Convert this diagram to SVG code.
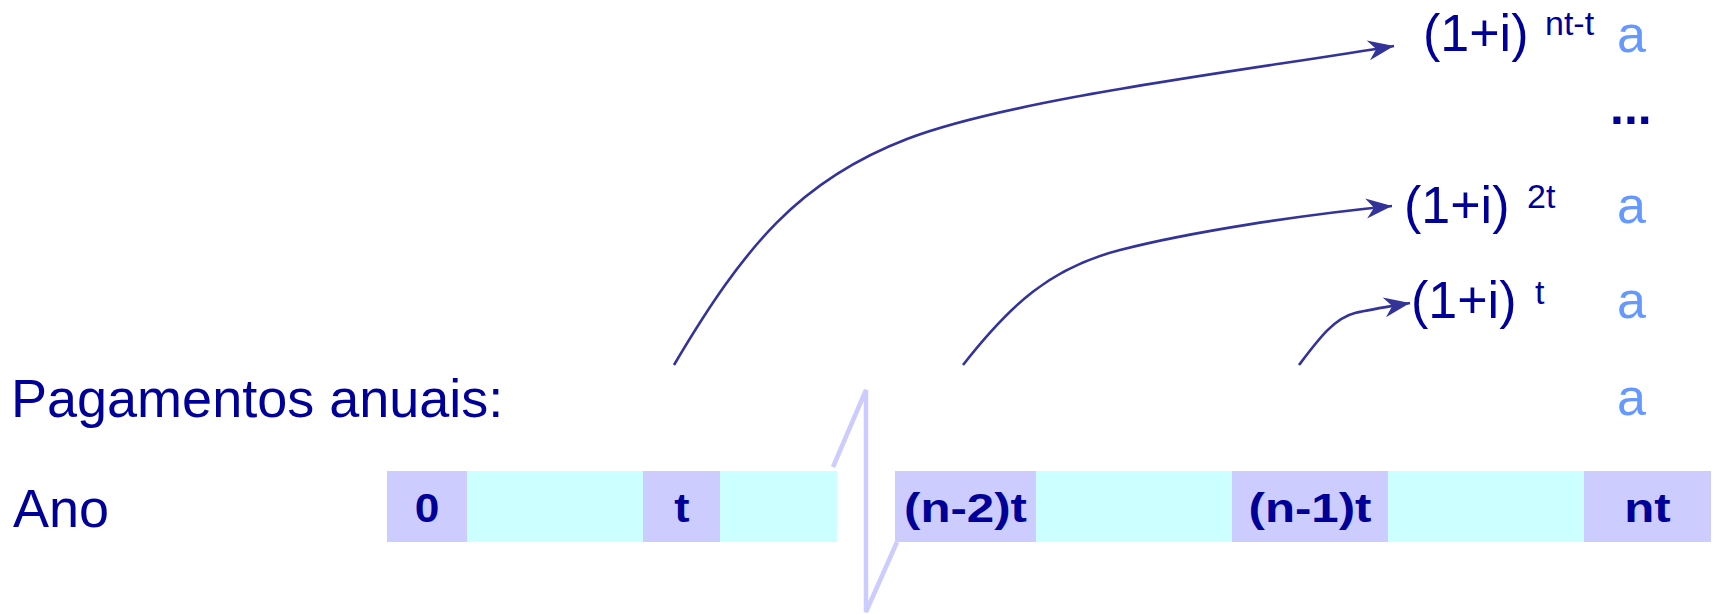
<svg xmlns="http://www.w3.org/2000/svg" width="1714" height="614" viewBox="0 0 1714 614">
<style>
.lbl{font-family:"Liberation Sans",Arial,sans-serif;font-size:52px;fill:#000099}
.big{font-family:"Liberation Sans",Arial,sans-serif;font-size:54px;fill:#000099}
.sup{font-family:"Liberation Sans",Arial,sans-serif;font-size:34px;fill:#000099}
.a{font-family:"Liberation Sans",Arial,sans-serif;font-size:52px;fill:#6699FF}
.box{font-family:"Liberation Sans",Arial,sans-serif;font-size:41px;font-weight:bold;fill:#000099;text-anchor:middle}
.p{fill:#CCCCFF}
.c{fill:#CCFFFF}
.arr{fill:none;stroke:#333399;stroke-width:2.6;marker-end:url(#ah)}
</style>
<defs>
<marker id="ah" markerUnits="userSpaceOnUse" markerWidth="32" markerHeight="26" viewBox="-28 -13 32 26" refX="0" refY="0" orient="auto">
<path d="M0,0 L-26,-10 L-18,0 L-26,10 Z" fill="#333399"/>
</marker>
</defs>
<rect width="1714" height="614" fill="#ffffff"/>
<g id="labels">
<text class="big" x="11" y="417">Pagamentos anuais:</text>
<text class="big" x="13" y="527">Ano</text>
</g>
<g id="timeline">
<rect class="p" x="387" y="471" width="80" height="71"/>
<rect class="c" x="467" y="471" width="176" height="71"/>
<rect class="p" x="643" y="471" width="77" height="71"/>
<rect class="c" x="720" y="471" width="117" height="71"/>
<rect class="p" x="895" y="471" width="141" height="71"/>
<rect class="c" x="1036" y="471" width="196" height="71"/>
<rect class="p" x="1232" y="471" width="156" height="71"/>
<rect class="c" x="1388" y="471" width="196" height="71"/>
<rect class="p" x="1584" y="471" width="127" height="71"/>
<text class="box" transform="translate(427,522) scale(1.08,1)">0</text>
<text class="box" transform="translate(682,522) scale(1.12,1)">t</text>
<text class="box" transform="translate(965.5,522) scale(1.2,1)">(n-2)t</text>
<text class="box" transform="translate(1310,522) scale(1.2,1)">(n-1)t</text>
<text class="box" transform="translate(1647.5,522) scale(1.2,1)">nt</text>
</g>
<g id="break">
<polyline points="833,467 866,390 866,612 897,542" fill="none" stroke="#CCCCFF" stroke-width="4.5"/>
</g>
<g id="values">
<text class="lbl" x="1423" y="51">(1+i)</text>
<text class="sup" x="1545" y="35">nt-t</text>
<text class="a" x="1617" y="52">a</text>
<text class="lbl" x="1610" y="124" style="font-weight:bold;font-size:50px">...</text>
<text class="lbl" x="1404" y="223">(1+i)</text>
<text class="sup" x="1527" y="208">2t</text>
<text class="a" x="1617" y="223">a</text>
<text class="lbl" x="1411" y="318">(1+i)</text>
<text class="sup" x="1535" y="304">t</text>
<text class="a" x="1617" y="318">a</text>
<text class="a" x="1617" y="415">a</text>
</g>
<g id="connectors">
<path class="arr" d="M674,365 C745,245 800,180 907,139 S1250,70 1394,46"/>
<path class="arr" d="M963,365 C1010,305 1050,268 1120,250 S1300,215 1392,206"/>
<path class="arr" d="M1299,365 C1318,340 1334,318 1355,313 C1372,309 1392,306 1410,303"/>
</g>
</svg>
